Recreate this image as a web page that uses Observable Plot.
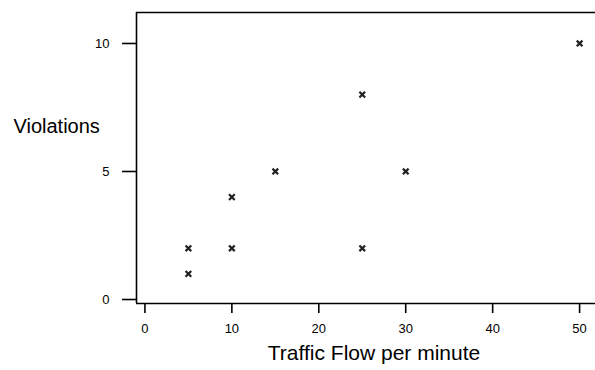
<!DOCTYPE html>
<html>
<head>
<meta charset="utf-8">
<script src="https://cdn.jsdelivr.net/npm/d3@7"></script>
<script src="https://cdn.jsdelivr.net/npm/@observablehq/plot@0.6"></script>
<style>
  html, body { margin: 0; padding: 0; background: #fff; }
  #chart svg { display: block; }
  #chart g[aria-label="x-axis tick"] path,
  #chart g[aria-label="y-axis tick"] path { stroke-width: 1.6; }
</style>
</head>
<body>
<div id="chart"></div>
<script>
const flow = [5, 5, 10, 10, 15, 25, 25, 30, 50];
const violations = [2, 1, 4, 2, 5, 8, 2, 5, 10];
const xTicks = [0, 10, 20, 30, 40, 50];
const yTicks = [0, 5, 10];
const xTitle = "Traffic Flow per minute";
const yTitle = "Violations";

const data = flow.map((f, i) => ({flow: f, violations: violations[i]}));
const xDomain = [-0.97, 51.83];
const yDomain = [-0.156, 11.21];

const chart = Plot.plot({
  width: 595,
  height: 370,
  marginTop: 12,
  marginBottom: 67,
  marginLeft: 136,
  marginRight: 0,
  style: {fontFamily: "'Liberation Sans', Arial, sans-serif", fontSize: "13px", color: "#000", background: "#fff", overflow: "visible"},
  x: {domain: xDomain, ticks: xTicks, tickSize: 10, tickPadding: 10, label: null, tickFormat: d => String(d)},
  y: {domain: yDomain, ticks: yTicks, tickSize: 14, tickPadding: 13, label: null, tickFormat: d => String(d)},
  marks: [
    Plot.ruleY([yDomain[1]], {stroke: "#000", strokeWidth: 1.6}),
    Plot.ruleY([yDomain[0]], {stroke: "#000", strokeWidth: 1.6}),
    Plot.ruleX([xDomain[0]], {stroke: "#000", strokeWidth: 1.6}),
    Plot.dot(data, {x: "flow", y: "violations", symbol: "square", r: 1.3, fill: "#000", stroke: "none"}),
    Plot.dot(data, {x: "flow", y: "violations", symbol: "times", r: 2.7, stroke: "#222", strokeWidth: 2.2}),
    Plot.text([yTitle], {frameAnchor: "left", text: d => d, textAnchor: "start", dx: -123, dy: -31, fontSize: 20, fill: "#000"}),
    Plot.text([xTitle], {frameAnchor: "bottom", text: d => d, textAnchor: "middle", dx: 8, dy: 56, fontSize: 21, fill: "#000"})
  ]
});
document.getElementById("chart").appendChild(chart);
</script>
</body>
</html>
